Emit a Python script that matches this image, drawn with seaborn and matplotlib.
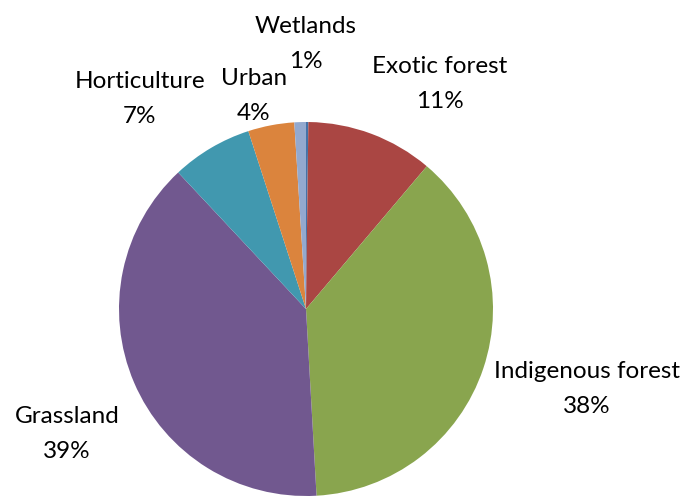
import matplotlib
matplotlib.use("Agg")
import matplotlib.pyplot as plt
import seaborn as sns

# Land cover shares (percent), clockwise from 12 o'clock
categories = ["Other", "Exotic forest", "Indigenous forest", "Grassland",
              "Horticulture", "Urban", "Wetlands"]
shares = [0.2, 11, 38, 39, 7, 4, 1]
show_label = [False, True, True, True, True, True, True]

colors = ["#4572A7", "#AA4643", "#89A54E", "#71588F", "#4198AF", "#DB843D", "#93A9CF"]

# label anchor points (pixel coordinates, y measured from top) for each slice
label_xy = [None, (440, 84), (587, 389), (67, 434), (140, 99), (254, 96), (306, 44)]

sns.set_theme(style="white")
plt.rcParams["font.family"] = ["Lato", "DejaVu Sans"]

W, H = 684, 498
fig = plt.figure(figsize=(W / 100, H / 100), dpi=100)
ax = fig.add_axes([0, 0, 1, 1])

cx, cy, r = 306, H - 309, 187
ax.pie(shares, colors=colors, startangle=90, counterclock=False,
       center=(cx, cy), radius=r, frame=True,
       wedgeprops=dict(linewidth=0, edgecolor="none"))
ax.set_xlim(0, W)
ax.set_ylim(0, H)
ax.set_aspect("equal")
ax.axis("off")

for name, val, show, xy in zip(categories, shares, show_label, label_xy):
    if not show:
        continue
    x, y = xy
    ax.text(x, H - y, f"{name}\n{val:.0f}%", ha="center", va="center",
            fontsize=17.5, color="black", linespacing=1.8)

fig.savefig("out.png", dpi=100)
